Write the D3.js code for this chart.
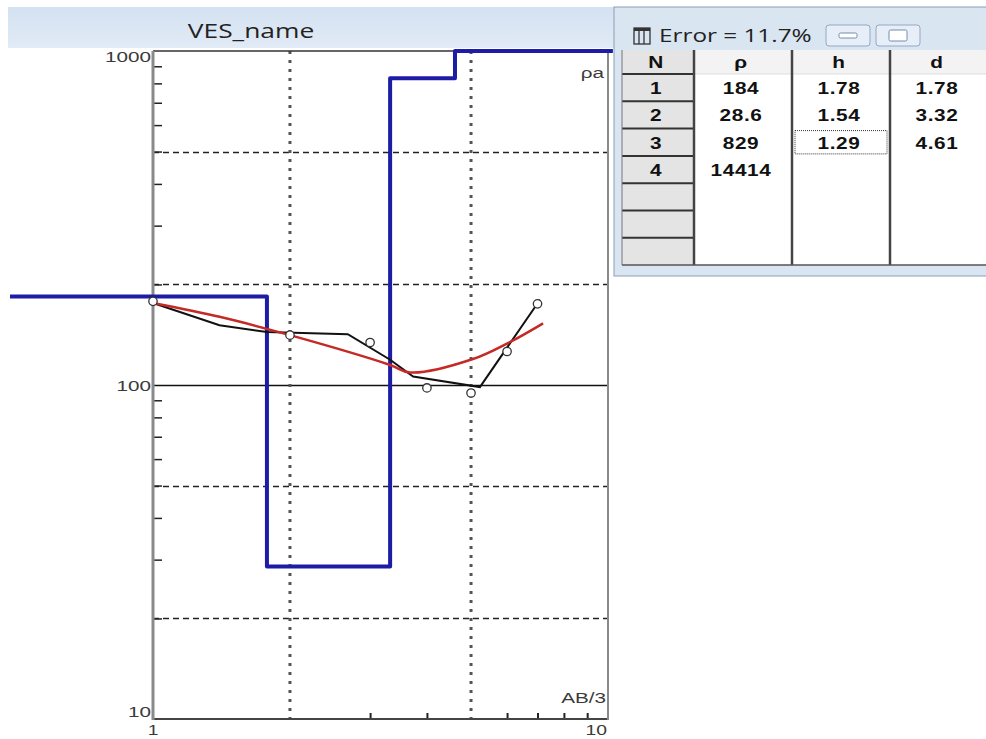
<!DOCTYPE html>
<html>
<head>
<meta charset="utf-8">
<script src="https://cdn.jsdelivr.net/npm/d3@7/dist/d3.min.js"></script>
<style>
  html, body { margin: 0; padding: 0; background: #fff; }
  svg { display: block; }
  .lbl { font-family: Arial, "Liberation Sans", sans-serif; font-size: 15px; fill: #3a3a3a; }
  .tbl { font-family: Arial, "Liberation Sans", sans-serif; font-size: 16px; font-weight: bold; fill: #111; letter-spacing: 0.5px; }
  .cap { font-family: "Open Sans", "Noto Sans", sans-serif; fill: #222; }
</style>
</head>
<body>
<svg id="chart" width="986" height="739"></svg>
<script>
// Sounding curve: observed points (AB/3, apparent resistivity)
const obsAB  = [1, 2, 3, 4, 5, 6, 7];
const obsRho = [178, 141, 134, 98, 94.6, 126, 175];

// Field curve (black polyline)
const fieldAB  = [1.0, 1.40, 1.78, 2.68, 3.32, 3.73, 5.23, 7.09];
const fieldRho = [176, 151, 144, 142, 119, 106, 98.6, 180];

// Calculated curve for the layered model (red)
const calcAB  = [1.0, 1.40, 2.0, 3.32, 3.67, 5.05, 6.09, 7.2];
const calcRho = [176, 160, 141, 114.8, 109, 119.6, 134.5, 153];

// Layered model
const layerN   = [1, 2, 3, 4];
const layerRho = [184, 28.6, 829, 14414];
const layerH   = [1.78, 1.54, 1.29];
const layerD   = [1.78, 3.32, 4.61];
const modelSpan = [0.485, 10.25];   // AB/3 range covered by the model line
const errorPct = 11.7;

// Axis ticks
const xLabelTicks = [1, 10];
const yLabelTicks = [10, 100, 1000];
const xMinor = [3, 4, 6, 7, 8, 9];
const xGrid = [2, 5];
const yGridDashed = [20, 50, 200, 500];
const yMinor = [20, 30, 40, 50, 60, 70, 80, 90, 200, 300, 400, 500, 600, 700, 800, 900];

const svg = d3.select("#chart");
const L = 153, R = 608, T = 51, B = 719;
const SX = 1.38; // horizontal stretch of the interface lettering

const x = d3.scaleLog().domain([1, 10]).range([L, R]);
const y = d3.scaleLog().domain([10, 1000]).range([B, T]);
const yTop = y.domain()[1];

// text placed at (px, py) and widened horizontally
function wideText(parent, px, py, str, cls, anchor, sx = SX) {
  return parent.append("text").attr("class", cls)
    .attr("transform", `translate(${px},${py}) scale(${sx},1)`)
    .attr("text-anchor", anchor || "start").text(str);
}

// Title band
const bandGrad = svg.append("defs").append("linearGradient")
  .attr("id", "band").attr("x1", 0).attr("y1", 0).attr("x2", 0).attr("y2", 1);
bandGrad.append("stop").attr("offset", "0%").attr("stop-color", "#d3e1f1");
bandGrad.append("stop").attr("offset", "100%").attr("stop-color", "#e2ebf6");
svg.append("rect").attr("x", 8).attr("y", 7).attr("width", 606).attr("height", 41).attr("fill", "url(#band)");
wideText(svg, 251, 38, "VES_name", "cap", "middle", 1.32).style("font-size", "20px");

// Plot background
svg.append("rect").attr("x", L).attr("y", T).attr("width", R - L).attr("height", B - T).attr("fill", "#fff");

// Grid
const grid = svg.append("g");
grid.selectAll("line.hd").data(yGridDashed).join("line")
  .attr("x1", L).attr("x2", R).attr("y1", d => Math.round(y(d)) + 0.5).attr("y2", d => Math.round(y(d)) + 0.5)
  .attr("stroke", "#222").attr("stroke-width", 1.5).attr("stroke-dasharray", "6,4");
grid.append("line").attr("x1", L).attr("x2", R).attr("y1", y(100) + 0.5).attr("y2", y(100) + 0.5)
  .attr("stroke", "#111").attr("stroke-width", 1.3);
grid.selectAll("line.vd").data(xGrid).join("line")
  .attr("x1", d => x(d)).attr("x2", d => x(d)).attr("y1", T).attr("y2", B)
  .attr("stroke", "#555").attr("stroke-width", 3).attr("stroke-dasharray", "3,6");

// Minor ticks via axes
const yAxis = d3.axisLeft(y).tickValues(yMinor).tickSize(-9).tickFormat("");
const yg = svg.append("g").attr("transform", `translate(${L},0)`).call(yAxis);
yg.select(".domain").remove();
yg.selectAll(".tick line").attr("stroke", "#222").attr("stroke-width", 1.5);

const xAxis = d3.axisBottom(x).tickValues(xMinor).tickSize(-6).tickFormat("");
const xg = svg.append("g").attr("transform", `translate(0,${B})`).call(xAxis);
xg.select(".domain").remove();
xg.selectAll(".tick line").attr("stroke", "#222").attr("stroke-width", 2);

// Frame
svg.append("line").attr("x1", L).attr("x2", R).attr("y1", T).attr("y2", T).attr("stroke", "#333").attr("stroke-width", 1.5);
svg.append("line").attr("x1", L).attr("x2", R + 1).attr("y1", B).attr("y2", B).attr("stroke", "#444").attr("stroke-width", 2);
svg.append("line").attr("x1", L).attr("x2", L).attr("y1", T).attr("y2", B + 1).attr("stroke", "#8a8a8a").attr("stroke-width", 3);
svg.append("line").attr("x1", R).attr("x2", R).attr("y1", T).attr("y2", B + 1).attr("stroke", "#8a8a8a").attr("stroke-width", 2);

// Axis labels
yLabelTicks.forEach(d => {
  wideText(svg, L - 2, y(d) + (d === 1000 ? 11 : d === 10 ? -2 : 6), d, "lbl", "end");
});
xLabelTicks.forEach(d => {
  wideText(svg, d === 10 ? x(d) - 1 : x(d), B + 16, d, "lbl", d === 10 ? "end" : "middle").style("font-size", "14px");
});
wideText(svg, R - 4, 78, "ρa", "lbl", "end");
wideText(svg, R - 2, 703, "AB/3", "lbl", "end");

// Layered model (blue step line), values above the top of the plot are held at the top
const steps = [];
let from = modelSpan[0];
layerRho.forEach((r, i) => {
  const to = i < layerD.length ? layerD[i] : modelSpan[1];
  steps.push([from, r], [to, r]);
  from = to;
});
const modelLine = d3.line().x(d => x(d[0])).y(d => y(Math.min(d[1], yTop)));
svg.append("path").datum(steps).attr("d", modelLine)
  .attr("fill", "none").attr("stroke", "#1c1ca6").attr("stroke-width", 4).attr("stroke-linejoin", "round");

// Field curve
const fieldPts = fieldAB.map((a, i) => [a, fieldRho[i]]);
svg.append("path").datum(fieldPts)
  .attr("d", d3.line().x(d => x(d[0])).y(d => y(d[1])))
  .attr("fill", "none").attr("stroke", "#111").attr("stroke-width", 2);

// Calculated curve
const calcPts = calcAB.map((a, i) => [a, calcRho[i]]);
svg.append("path").datum(calcPts)
  .attr("d", d3.line().curve(d3.curveCatmullRom.alpha(0.5)).x(d => x(d[0])).y(d => y(d[1])))
  .attr("fill", "none").attr("stroke", "#c42a26").attr("stroke-width", 2.5);

// Observed points
svg.selectAll("circle.obs").data(obsAB.map((a, i) => [a, obsRho[i]])).join("circle")
  .attr("cx", d => x(d[0])).attr("cy", d => y(d[1])).attr("r", 4.2)
  .attr("fill", "#fff").attr("stroke", "#333").attr("stroke-width", 1.3);

// Model table window
const W = svg.append("g");
const wx = 614, wy = 7;
W.append("rect").attr("x", wx).attr("y", wy).attr("width", 380).attr("height", 269)
  .attr("fill", "#dae5f2").attr("stroke", "#8b9db5").attr("stroke-width", 1);
// window icon
W.append("rect").attr("x", 634).attr("y", 28).attr("width", 16).attr("height", 16)
  .attr("fill", "none").attr("stroke", "#333").attr("stroke-width", 1.3);
W.append("line").attr("x1", 634).attr("x2", 650).attr("y1", 29.5).attr("y2", 29.5).attr("stroke", "#333").attr("stroke-width", 3);
[639, 644].forEach(v => W.append("line").attr("x1", v).attr("x2", v).attr("y1", 28).attr("y2", 44).attr("stroke", "#333").attr("stroke-width", 1.3));
wideText(W, 659, 42, `Error = ${errorPct}%`, "cap", "start", 1.28).style("font-size", "19px");
// caption buttons
[826, 876].forEach((bx, i) => {
  W.append("rect").attr("x", bx).attr("y", 25).attr("width", 44).attr("height", 21).attr("rx", 3)
    .attr("fill", "#e8eef7").attr("stroke", "#93a8c5");
  if (i === 0) {
    W.append("rect").attr("x", bx + 13).attr("y", 33).attr("width", 18).attr("height", 5).attr("rx", 1.5)
      .attr("fill", "#fff").attr("stroke", "#6e8db5");
  } else {
    W.append("rect").attr("x", bx + 13).attr("y", 30).attr("width", 18).attr("height", 11).attr("rx", 1.5)
      .attr("fill", "#fff").attr("stroke", "#6e8db5");
  }
});

// grid of the table
const tx0 = 622, tx1 = 986, ty0 = 50, ty1 = 265;
const colX = [622, 694, 792, 890, 988];
const headH = 24, rowH = 27.3;
const nRows = 7;
W.append("rect").attr("x", tx0).attr("y", ty0).attr("width", tx1 - tx0 + 2).attr("height", ty1 - ty0).attr("fill", "#fff");
W.append("rect").attr("x", tx0).attr("y", ty0).attr("width", tx1 - tx0 + 2).attr("height", headH).attr("fill", "#f3f3f3");
W.append("rect").attr("x", colX[0]).attr("y", ty0).attr("width", colX[1] - colX[0]).attr("height", ty1 - ty0).attr("fill", "#e4e4e4");
const rowY = d3.range(nRows + 1).map(i => ty0 + headH + i * rowH);
rowY.slice(0, -1).forEach(ry => {
  W.append("line").attr("x1", colX[0]).attr("x2", colX[1]).attr("y1", ry).attr("y2", ry)
    .attr("stroke", "#333").attr("stroke-width", 2);
});
W.append("line").attr("x1", colX[1]).attr("x2", tx1).attr("y1", ty0 + headH).attr("y2", ty0 + headH)
  .attr("stroke", "#ddd").attr("stroke-width", 1);
colX.slice(1, 4).forEach(cx => {
  W.append("line").attr("x1", cx).attr("x2", cx).attr("y1", ty0).attr("y2", ty1)
    .attr("stroke", "#444").attr("stroke-width", 2.5);
});
W.append("line").attr("x1", tx0).attr("x2", tx1).attr("y1", ty1).attr("y2", ty1).attr("stroke", "#555").attr("stroke-width", 1.5);
W.append("line").attr("x1", tx0).attr("x2", tx0).attr("y1", ty0).attr("y2", ty1).attr("stroke", "#777").attr("stroke-width", 1);

const colMid = d3.range(4).map(i => (colX[i] + colX[i + 1]) / 2);
["N", "ρ", "h", "d"].forEach((t, i) => {
  wideText(W, colMid[i] - 2, ty0 + 18, t, "tbl", "middle", 1.3);
});
const cellY = i => ty0 + headH + i * rowH + 20;
layerN.forEach((n, i) => {
  wideText(W, colMid[0] - 2, cellY(i), n, "tbl", "middle", 1.3);
  wideText(W, colMid[1] - 2, cellY(i), layerRho[i], "tbl", "middle", 1.3);
  if (i < layerH.length) {
    wideText(W, colMid[2] - 2, cellY(i), layerH[i], "tbl", "middle", 1.3);
    wideText(W, colMid[3] - 2, cellY(i), layerD[i], "tbl", "middle", 1.3);
  }
});
// focus rectangle on the selected cell
W.append("rect").attr("x", colX[2] + 3).attr("y", ty0 + headH + 2 * rowH + 2).attr("width", colX[3] - colX[2] - 6).attr("height", rowH - 4)
  .attr("fill", "none").attr("stroke", "#333").attr("stroke-width", 1).attr("stroke-dasharray", "1,1");
</script>
</body>
</html>
